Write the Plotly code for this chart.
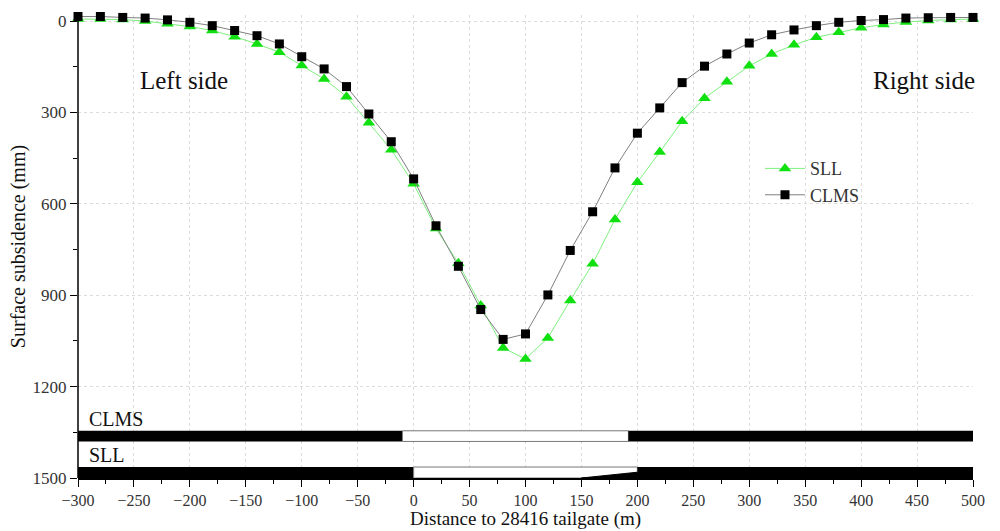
import plotly.graph_objects as go

x_dist = list(range(-300, 501, 20))

sll = [-7, -7, -5, 0, 9, 18, 31, 51, 75, 102, 146, 190, 248, 334, 422,
       534, 681, 795, 934, 1073, 1109, 1040, 917, 797, 651, 529,
       430, 329, 253, 199, 147, 108, 78, 53, 37, 22, 11, 3, -2, -5, -7]
clms = [-15, -15, -12, -10, -4, 4, 15, 31, 48, 75, 117, 157, 215, 305, 396,
        518, 672, 805, 947, 1045, 1027, 899, 753, 626, 482, 368,
        285, 202, 148, 108, 72, 45, 29, 15, 4, -2, -5, -10, -11, -12, -12]

# panel (mining section) schematic at bottom
clms_goaf = [-10, 192]
clms_band = [1345, 1380]
sll_goaf = [0, 200]
sll_band = [1464, 1500]
sll_wedge_x = [150, 200, 200]
sll_wedge_y = [1500, 1481, 1500]
x_range = [-300, 500]
y_axis_span = [0, 1500]

FONT = "Liberation Serif"

fig = go.Figure()

fig.add_trace(go.Scatter(
    x=x_dist, y=sll, name="SLL", mode="lines+markers",
    line=dict(color="#7ef07e", width=1),
    marker=dict(symbol="triangle-up", size=11, color="#10e010"),
    cliponaxis=False))
fig.add_trace(go.Scatter(
    x=x_dist, y=clms, name="CLMS", mode="lines+markers",
    line=dict(color="#808080", width=1),
    marker=dict(symbol="square", size=9, color="#000000"),
    cliponaxis=False))

shapes = []
for band, goaf in [(clms_band, clms_goaf), (sll_band, sll_goaf)]:
    shapes.append(dict(type="rect", xref="x", yref="y", x0=x_range[0], x1=goaf[0],
                       y0=band[0], y1=band[1], fillcolor="black", line=dict(width=0)))
    shapes.append(dict(type="rect", xref="x", yref="y", x0=goaf[0], x1=goaf[1],
                       y0=band[0], y1=band[1], fillcolor="white",
                       line=dict(color="#777777", width=1)))
    shapes.append(dict(type="rect", xref="x", yref="y", x0=goaf[1], x1=x_range[1],
                       y0=band[0], y1=band[1], fillcolor="black", line=dict(width=0)))
path = "M " + " L ".join(f"{a} {b}" for a, b in zip(sll_wedge_x, sll_wedge_y)) + " Z"
shapes.append(dict(type="path", xref="x", yref="y", path=path,
                   fillcolor="black", line=dict(color="black", width=1)))
# left axis line from 0 to 1500 only
shapes.append(dict(type="line", xref="paper", yref="y", x0=0, x1=0,
                   y0=y_axis_span[0], y1=y_axis_span[1],
                   line=dict(color="black", width=1.5)))

annotations = [
    dict(x=-292, y=1305, xref="x", yref="y", text="CLMS", showarrow=False,
         xanchor="left", yanchor="middle", font=dict(family=FONT, size=20, color="#111")),
    dict(x=-292, y=1425, xref="x", yref="y", text="SLL", showarrow=False,
         xanchor="left", yanchor="middle", font=dict(family=FONT, size=20, color="#111")),
    dict(x=-205, y=195, xref="x", yref="y", text="Left side", showarrow=False,
         font=dict(family=FONT, size=25, color="#111")),
    dict(x=456, y=195, xref="x", yref="y", text="Right side", showarrow=False,
         font=dict(family=FONT, size=25, color="#111")),
    dict(x=0.5, y=-41 / 463, xref="paper", yref="paper",
         text="Distance to 28416 tailgate (m)", showarrow=False,
         xanchor="center", yanchor="middle", font=dict(family=FONT, size=19, color="#111")),
]

fig.update_layout(
    width=1000, height=531,
    margin=dict(l=78, r=27, t=15, b=53, autoexpand=False),
    paper_bgcolor="white", plot_bgcolor="white",
    font=dict(family=FONT, size=17, color="#333"),
    shapes=shapes, annotations=annotations,
    showlegend=True,
    legend=dict(x=0.762, y=0.708, xanchor="left", yanchor="top",
                bgcolor="rgba(0,0,0,0)", font=dict(family=FONT, size=18, color="#333"),
                tracegroupgap=0, itemwidth=40),
)

fig.update_xaxes(
    range=x_range, dtick=50, tick0=-300, automargin=False,
    showline=True, linecolor="black", linewidth=1.5,
    ticks="outside", ticklen=7, tickcolor="black",
    minor=dict(dtick=25, ticklen=4, tickcolor="black", ticks="outside", showgrid=False),
    showgrid=True, gridcolor="#dcdcdc", griddash="dot", gridwidth=1,
    zeroline=False,
    tickfont=dict(family=FONT, size=16, color="#333"),
)
fig.update_yaxes(
    range=[1500, -20], dtick=300, tick0=0, automargin=False,
    showline=False,
    ticks="outside", ticklen=7, tickcolor="black",
    minor=dict(dtick=150, tick0=0, ticklen=4, tickcolor="black", ticks="outside", showgrid=False),
    showgrid=True, gridcolor="#dcdcdc", griddash="dot", gridwidth=1,
    zeroline=False,
    tickfont=dict(family=FONT, size=17, color="#333"),
    title=dict(text="Surface subsidence (mm)", standoff=1,
               font=dict(family=FONT, size=20, color="#111")),
)

fig.write_html("out.html")
